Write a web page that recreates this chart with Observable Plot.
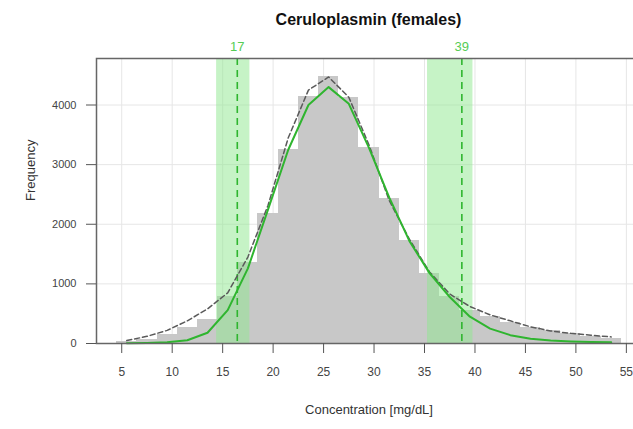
<!DOCTYPE html>
<html>
<head>
<meta charset="utf-8">
<script src="https://cdn.jsdelivr.net/npm/d3@7"></script>
<script src="https://cdn.jsdelivr.net/npm/@observablehq/plot@0.6"></script>
<style>
  html, body { margin: 0; padding: 0; overflow: hidden; background: #fff; width: 633px; height: 429px; }
  #title { box-sizing: border-box; margin-left: 96px; width: 545px; height: 40px; padding-top: 11px; line-height: 20px; text-align: center;
           font: bold 16px "Liberation Sans", Arial, sans-serif; color: #111; }
  #chart svg { display: block; overflow: hidden; max-width: none !important; }
</style>
</head>
<body>
<div id="title">Ceruloplasmin (females)</div>
<div id="chart"></div>
<script>
// Histogram bins (lower edge, upper edge) and counts
const binLow  = [4.5, 6.5, 8.5, 10.5, 12.5, 14.5, 16.5, 18.5, 20.5, 22.5, 24.5, 26.5, 28.5, 30.5, 32.5, 34.5, 36.5, 38.5, 40.5, 42.5, 44.5, 46.5, 48.5, 50.5, 52.5];
const binHigh = [6.5, 8.5, 10.5, 12.5, 14.5, 16.5, 18.5, 20.5, 22.5, 24.5, 26.5, 28.5, 30.5, 32.5, 34.5, 36.5, 38.5, 40.5, 42.5, 44.5, 46.5, 48.5, 50.5, 52.5, 54.5];
const counts  = [30, 70, 150, 260, 400, 780, 1360, 2180, 3250, 4150, 4470, 4120, 3280, 2430, 1730, 1170, 780, 560, 450, 350, 270, 210, 160, 120, 90];

// Curves evaluated at bin centres
const curveX   = [5.5, 7.5, 9.5, 11.5, 13.5, 15.5, 17.5, 19.5, 21.5, 23.5, 25.5, 27.5, 29.5, 31.5, 33.5, 35.5, 37.5, 39.5, 41.5, 43.5, 45.5, 47.5, 49.5, 51.5, 53.5];
const allFit   = [50, 120, 220, 380, 580, 850, 1450, 2320, 3450, 4250, 4470, 4130, 3330, 2400, 1750, 1200, 830, 620, 480, 380, 280, 210, 170, 140, 110];
const refFit   = [5, 10, 20, 55, 180, 560, 1260, 2250, 3250, 4000, 4300, 4020, 3280, 2450, 1720, 1180, 780, 450, 250, 140, 80, 50, 35, 25, 20];

// Reference limits with confidence bands
const refLimit  = [16.45, 38.7];
const refLabel  = ["17", "39"];
const bandLow   = [14.4, 35.3];
const bandHigh  = [17.7, 39.8];

const xTicks = [5, 10, 15, 20, 25, 30, 35, 40, 45, 50, 55];
const yTicks = [0, 1000, 2000, 3000, 4000];
const xTitle = "Concentration [mg/dL]";
const yTitle = "Frequency";

const bins  = binLow.map((d, i) => ({x1: d, x2: binHigh[i], count: counts[i]}));
const curve = curveX.map((d, i) => ({x: d, all: allFit[i], ref: refFit[i]}));
const refs  = refLimit.map((d, i) => ({x: d, label: refLabel[i], lo: bandLow[i], hi: bandHigh[i]}));

const green = "#2fb52f";

const chart = Plot.plot({
  width: 650,
  height: 389,
  marginTop: 18,
  marginBottom: 86,
  marginLeft: 96,
  marginRight: 9,
  style: {fontFamily: "'Liberation Sans', Arial, sans-serif", background: "#fff", maxWidth: "none"},
  x: {domain: [2.5, 56.5]},
  y: {domain: [0, 4780]},
  marks: [
    Plot.gridX(xTicks, {stroke: "#e6e6e6", strokeOpacity: 1}),
    Plot.gridY(yTicks, {stroke: "#e6e6e6", strokeOpacity: 1}),
    Plot.rectY(bins, {x1: "x1", x2: "x2", y: "count", fill: "#c8c8c8", inset: 0, shapeRendering: "crispEdges"}),
    Plot.rect(refs, {x1: "lo", x2: "hi", fill: "#8ee88e", fillOpacity: 0.5}),
    Plot.ruleX(refs, {x: "x", stroke: green, strokeWidth: 1.6, strokeDasharray: "7,5"}),
    Plot.line(curve, {x: "x", y: "all", stroke: "#5a5a5a", strokeWidth: 1.5, strokeDasharray: "5,3"}),
    Plot.line(curve, {x: "x", y: "ref", stroke: green, strokeWidth: 2}),
    Plot.text(refs, {x: "x", text: "label", frameAnchor: "top", dy: -17, fill: "#55cc55", fontSize: 13}),
    Plot.frame({stroke: "#666", strokeWidth: 1.5}),
    Plot.axisX(xTicks, {tickSize: 10, tickPadding: 14, fontSize: 12, color: "#444", stroke: "#555",
      tickFormat: d => String(d), label: null}),
    Plot.axisY(yTicks, {tickSize: 10, tickPadding: 10, fontSize: 11, color: "#444", stroke: "#555",
      tickFormat: d => String(d), label: null}),
    Plot.text([xTitle], {text: d => d, frameAnchor: "bottom", dy: 70, fontSize: 13, fill: "#333"}),
    Plot.text([yTitle], {text: d => d, frameAnchor: "left", dx: -66, rotate: -90, fontSize: 13, fill: "#333"})
  ]
});
document.getElementById("chart").appendChild(chart);
</script>
</body>
</html>
